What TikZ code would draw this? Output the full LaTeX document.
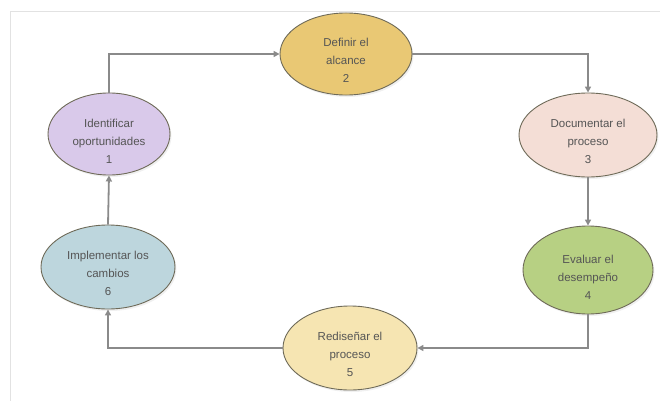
\documentclass[tikz,border=0pt]{standalone}
\usepackage{fontspec}
\setmainfont{Liberation Sans}
\usetikzlibrary{arrows.meta,shapes.geometric,shadows}

\definecolor{edgegray}{HTML}{6E6A58}
\definecolor{linegray}{HTML}{8A8A8A}
\definecolor{framegray}{HTML}{E2E2E2}
\definecolor{textgray}{HTML}{555555}
\definecolor{fillone}{HTML}{D9C9EA}
\definecolor{filltwo}{HTML}{E9C874}
\definecolor{fillthree}{HTML}{F4DED6}
\definecolor{fillfour}{HTML}{B7D083}
\definecolor{fillfive}{HTML}{F6E5B2}
\definecolor{fillsix}{HTML}{BDD6DD}

% invisible strut that pushes a stage label a little below the centre
\newcommand{\stagelift}{\rule{0pt}{22pt}}

\begin{document}
\begin{tikzpicture}[x=1pt,y=-1pt,
  stage/.style={ellipse, draw=edgegray, line width=0.9pt, inner sep=0pt,
    align=center, text=textgray, font=\fontsize{11.5}{18}\selectfont,
    drop shadow={opacity=0.12, shadow xshift=1.5pt, shadow yshift=-2pt}},
  flow/.style={draw=linegray, line width=1.8pt,
    -{Triangle[length=6pt,width=6pt]}}]

  % page area and frame
  \useasboundingbox (0,0) rectangle (660,401);
  \draw[framegray, line width=1pt] (10,401) -- (10,12) -- (660,12);

  % the six stages of the improvement cycle
  \node[stage, fill=fillone,   minimum width=122pt, minimum height=76pt] (n1) at (109,134) {\stagelift Identificar\\oportunidades\\1};
  \node[stage, fill=filltwo,   minimum width=132pt, minimum height=76pt] (n2) at (346,54)  {\stagelift Definir el\\alcance\\2};
  \node[stage, fill=fillthree, minimum width=138pt, minimum height=84pt] (n3) at (588,135) {\stagelift Documentar el\\proceso\\3};
  \node[stage, fill=fillfour,  minimum width=130pt, minimum height=88pt] (n4) at (588,270) {\stagelift Evaluar el\\desempeño\\4};
  \node[stage, fill=fillfive,  minimum width=134pt, minimum height=84pt] (n5) at (350,348) {\stagelift Rediseñar el\\proceso\\5};
  \node[stage, fill=fillsix,   minimum width=134pt, minimum height=84pt] (n6) at (108,267) {\stagelift Implementar los\\cambios\\6};

  % connectors
  \draw[flow] (n1.north) |- (n2.west);
  \draw[flow] (n2.east) -| (n3.north);
  \draw[flow] (n3.south) -- (n4.north);
  \draw[flow] (n4.south) |- (n5.east);
  \draw[flow] (n5.west) -| (n6.south);
  \draw[flow] (n6.north) -- (n1.south);
\end{tikzpicture}
\end{document}
